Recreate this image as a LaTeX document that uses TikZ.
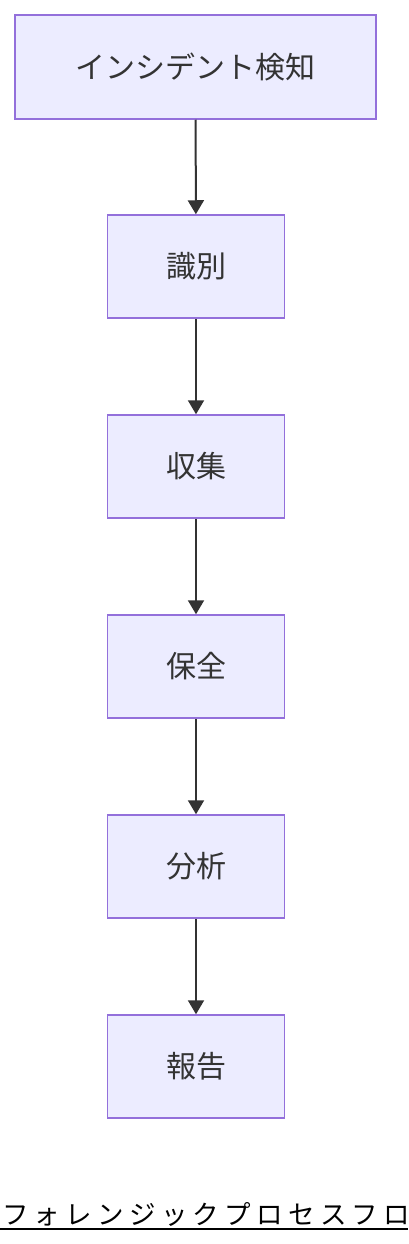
\documentclass[tikz,border=0pt]{standalone}
\usepackage{fontspec}
\newfontfamily\cjk{Noto Sans CJK JP}
\usetikzlibrary{arrows.meta}
\definecolor{boxfill}{HTML}{ECECFF}
\definecolor{boxline}{HTML}{9370DB}
\definecolor{ink}{HTML}{333333}
\tikzset{
	stepbox/.style={draw=boxline, fill=boxfill, line width=1.5pt, inner sep=0pt,
		minimum width=177pt, minimum height=103pt, text=ink,
		font=\cjk\fontsize{30}{36}\selectfont},
	flow/.style={draw=ink, line width=2pt, -{Triangle[width=16pt,length=14pt]}}
}

\begin{document}
\begin{tikzpicture}[x=1pt, y=-1pt]
		%%%%% START %%%%%
		
		\clip (0, 0) rectangle (408, 1244);
		\useasboundingbox (0, 0) rectangle (408, 1244);
		
		\node[stepbox, minimum width=361pt, minimum height=104pt] (detect) at (195.5, 67) {インシデント検知};
		\node[stepbox] (identify) at (196, 266.5) {識別};
		\node[stepbox] (collect) at (196, 466.5) {収集};
		\node[stepbox] (preserve) at (196, 666.5) {保全};
		\node[stepbox] (analyze) at (196, 866.5) {分析};
		\node[stepbox] (report) at (196, 1066.5) {報告};
		
		\draw[flow] (detect) -- (identify);
		\draw[flow] (identify) -- (collect);
		\draw[flow] (collect) -- (preserve);
		\draw[flow] (preserve) -- (analyze);
		\draw[flow] (analyze) -- (report);
		
		\node[anchor=base west, inner sep=0pt, text=black,
			font=\cjk\fontsize{26.5}{30}\selectfont\addfontfeatures{LetterSpace=20}] (title) at (2, 1224) {フォレンジックプロセスフロ};
		\draw[line width=2pt, black] (0, 1229) -- (408, 1229);
		
		%%%%% END %%%%%
\end{tikzpicture}
\end{document}
